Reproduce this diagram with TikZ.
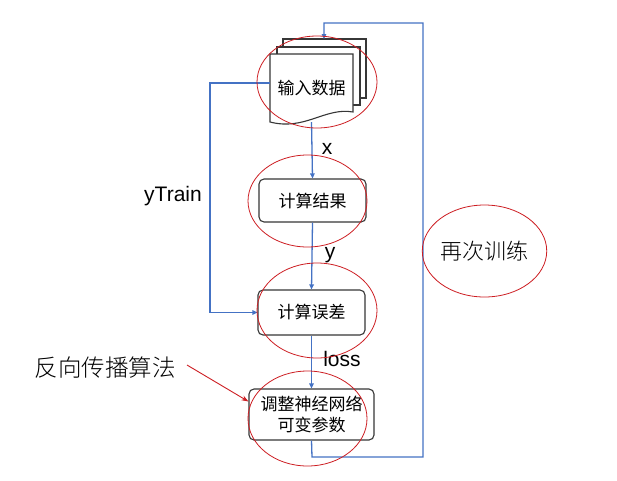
\documentclass[tikz,border=0pt]{standalone}
\usepackage{fontspec}
\setmainfont{Liberation Sans}
\newfontfamily\cjk{Noto Sans CJK SC}
\newfontfamily\cjklight{Noto Sans CJK SC Light}
\usetikzlibrary{arrows.meta,shapes.geometric}
\definecolor{lineblue}{RGB}{68,114,196}
\definecolor{ellred}{RGB}{205,30,35}
\definecolor{boxgray}{RGB}{55,55,55}
\tikzset{
  flow/.style={draw=lineblue,line width=1.3pt,-{Triangle[length=5pt,width=4.5pt]}},
  procbox/.style={draw=boxgray,line width=1.1pt,rounded corners=5pt,fill=white,
    inner sep=0pt,align=center,font=\cjk\fontsize{17}{21}\selectfont},
  redell/.style={draw=ellred,line width=0.8pt},
  lbl/.style={inner sep=0pt,font=\fontsize{21}{24}\selectfont,text=black},
  pagebox/.style={draw=boxgray,line width=1.1pt,fill=white},
  redarrow/.style={draw=ellred,line width=0.9pt,-{Stealth[length=7pt,width=5pt]}}
}
\begin{document}
\begin{tikzpicture}[x=1pt,y=-1pt]
\useasboundingbox[fill=white] (0,0) rectangle (617,480);
% stacked document pages
\draw[pagebox] (283,39) rectangle (366,98);
\draw[pagebox] (277,47) rectangle (360,105);
\draw[pagebox] (270,54) -- (353,54) -- (353,112)
   .. controls (325,107) and (305,131) .. (270,122) -- cycle;
\node[inner sep=0pt,minimum width=83pt,minimum height=68pt] (doc) at (311.5,88)
   {\cjk\fontsize{17}{21}\selectfont 输入数据};
% process boxes
\node[procbox,minimum width=107pt,minimum height=43pt] (calc) at (312.5,200.5) {计算结果};
\node[procbox,minimum width=107pt,minimum height=45pt] (err) at (311.5,312.5) {计算误差};
\node[procbox,minimum width=125pt,minimum height=51pt] (adj) at (311.5,414.5)
   {调整神经网络\\可变参数};
% connectors
\draw[flow] (doc.south) -- (calc.north);
\draw[flow] (calc.south) -- (err.north);
\draw[flow] (err.south) -- (adj.north);
\draw[flow] ([yshift=5pt]doc.west) -- (210,83) |- (err.west);
\coordinate (toparr) at (324,39);
\draw[flow] (adj.south) -- (312,457) -- (423,457) -- (423,23) -| (toparr);
% labels
\node[lbl] (lx) at (327,149) {x};
\node[lbl] (ly) at (330,255) {y};
\node[lbl] (lloss) at (342,359) {loss};
\node[lbl] (lytrain) at (173,196) {yTrain};
% red ellipses
\draw[redell] (317,82) ellipse (60 and 46);
\draw[redell] (307.5,201) ellipse (59.5 and 46);
\draw[redell] (317,310.5) ellipse (60 and 47.5);
\draw[redell] (307.5,418.5) ellipse (59.5 and 47.5);
\node[redell,ellipse,minimum width=119pt,minimum height=92pt,inner sep=0pt,
  font=\cjklight\fontsize{22}{26}\selectfont] (again) at (484.5,251) {再次训练};
% annotation
\node[inner sep=0pt,font=\cjklight\fontsize{23.5}{28}\selectfont] (bp) at (105,368) {反向传播算法};
\coordinate (bpa) at (187,365);
\draw[redarrow] (bpa) -- ([yshift=13pt]adj.west);
\end{tikzpicture}
\end{document}
